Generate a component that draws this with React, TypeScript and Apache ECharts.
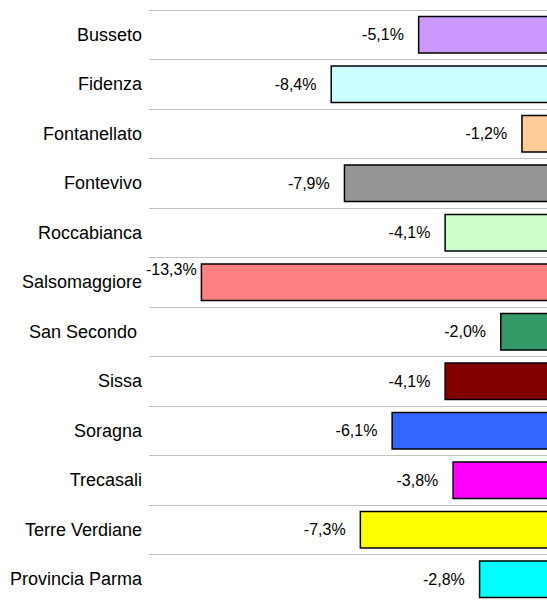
import React, { useEffect, useRef } from "react";
import * as echarts from "echarts";

const categories = [
  "Busseto",
  "Fidenza",
  "Fontanellato",
  "Fontevivo",
  "Roccabianca",
  "Salsomaggiore",
  "San Secondo ",
  "Sissa",
  "Soragna",
  "Trecasali",
  "Terre Verdiane",
  "Provincia Parma",
];
const values = [-5.1, -8.4, -1.2, -7.9, -4.1, -13.3, -2.0, -4.1, -6.1, -3.8, -7.3, -2.8];
const colors = [
  "#cc99ff",
  "#ccffff",
  "#ffcc99",
  "#969696",
  "#ccffcc",
  "#ff8080",
  "#339966",
  "#800000",
  "#3366ff",
  "#ff00ff",
  "#ffff00",
  "#00ffff",
];

const FONT = "'Liberation Sans', Arial, sans-serif";

export default function App() {
  const ref = useRef<HTMLDivElement>(null);
  useEffect(() => {
    if (!ref.current) return;
    const chart = echarts.init(ref.current, null, { renderer: "svg" });
    const minVal = Math.min(...values);
    const data = values.map((v, i) => {
      const item: any = {
        value: v,
        itemStyle: { color: colors[i] },
      };
      if (v === minVal) {
        item.label = { offset: [10, -13] };
      }
      return item;
    });
    chart.setOption({
      animation: false,
      grid: { left: 149, right: 7, top: 10, bottom: 6, containLabel: false },
      xAxis: {
        type: "value",
        min: -15.25,
        max: 0,
        show: false,
      },
      yAxis: {
        type: "category",
        data: categories,
        inverse: true,
        axisLine: { show: false },
        axisTick: { show: false },
        axisLabel: {
          margin: 7,
          color: "#000",
          fontSize: 18,
          fontFamily: FONT,
        },
        splitLine: { show: true, lineStyle: { color: "#c0c0c0", width: 1 } },
      },
      series: [
        {
          type: "bar",
          data,
          barWidth: 38,
          itemStyle: { borderColor: "#000", borderWidth: 1.5 },
          label: {
            show: true,
            position: "left",
            distance: 14,
            color: "#000",
            fontSize: 16,
            fontFamily: FONT,
            formatter: (p: any) => p.value.toFixed(1).replace(".", ",") + "%",
          },
        },
      ],
    });
    return () => chart.dispose();
  }, []);
  return (
    <div
      style={{
        position: "absolute",
        left: 0,
        top: 0,
        width: 547,
        height: 600,
        overflow: "hidden",
        background: "#fff",
      }}
    >
      <div ref={ref} style={{ width: 560, height: 610 }} />
    </div>
  );
}
